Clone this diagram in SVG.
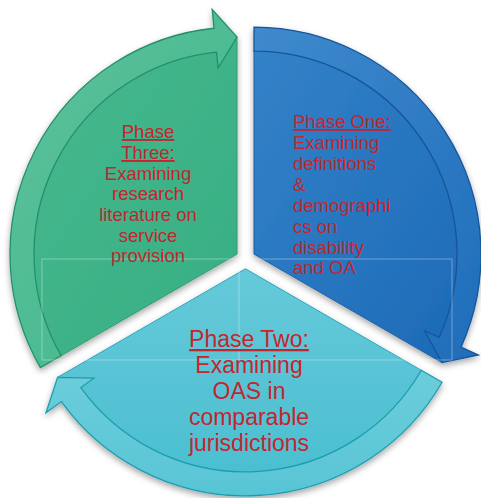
<svg xmlns="http://www.w3.org/2000/svg" width="481" height="498" viewBox="0 0 481 498">
  <defs>
    <filter id="shadow" x="-10%" y="-10%" width="120%" height="125%">
      <feDropShadow dx="0" dy="3" stdDeviation="3" flood-color="#000" flood-opacity="0.35"/>
    </filter>
    <linearGradient id="gGreen" x1="0" y1="0" x2="1" y2="1">
      <stop offset="0" stop-color="#48b88e"/>
      <stop offset="1" stop-color="#36ae83"/>
    </linearGradient>
    <linearGradient id="gGreenBand" x1="0" y1="0" x2="1" y2="1">
      <stop offset="0" stop-color="#5bc29b"/>
      <stop offset="1" stop-color="#43b68c"/>
    </linearGradient>
    <linearGradient id="gBlue" x1="0" y1="0" x2="1" y2="1">
      <stop offset="0" stop-color="#3482c8"/>
      <stop offset="1" stop-color="#1c6ab7"/>
    </linearGradient>
    <linearGradient id="gBlueBand" x1="0" y1="0" x2="1" y2="1">
      <stop offset="0" stop-color="#3f8acd"/>
      <stop offset="1" stop-color="#1f6dba"/>
    </linearGradient>
    <linearGradient id="gTeal" x1="0" y1="0" x2="0" y2="1">
      <stop offset="0" stop-color="#66c9d9"/>
      <stop offset="1" stop-color="#4bbfd1"/>
    </linearGradient>
    <linearGradient id="gTealBand" x1="0" y1="0" x2="0" y2="1">
      <stop offset="0" stop-color="#6ccdda"/>
      <stop offset="1" stop-color="#58c5d6"/>
    </linearGradient>
  </defs>
  <style>
    .green .pie { fill: url(#gGreen); stroke: #2e9a72; stroke-width: 1; }
    .green .band { fill: url(#gGreenBand); stroke: #23906a; stroke-width: 1.3; }
    .blue .pie { fill: url(#gBlue); stroke: #1a5ea6; stroke-width: 1; }
    .blue .band { fill: url(#gBlueBand); stroke: #15559c; stroke-width: 1.3; }
    .teal .pie { fill: url(#gTeal); stroke: #2aa9ba; stroke-width: 1; }
    .teal .band { fill: url(#gTealBand); stroke: #1d9daf; stroke-width: 1.3; }
    .seg { filter: url(#shadow); }
    .lbl { font-family: "Liberation Sans", Arial, sans-serif; fill: #c3262f; }
    .s1 { font-size: 18.5px; }
    .s2 { font-size: 23px; }
    .u { text-decoration: underline; }
    .frame { fill: none; stroke: #ffffff; stroke-opacity: 0.35; stroke-width: 1; }
  </style>

  <g id="phase-three" class="seg green">
    <path class="pie" d="M237,254.1 L60.33,356.1 A204,204 0 0 1 216.38,51.14 L237,37.1 Z"/>
    <path class="band" d="M40.41,367.6 A227,227 0 0 1 214.06,28.26 L212.14,9.36 L237,37.1 L218.10,68.06 L216.49,52.14 A203,203 0 0 0 61.20,355.6 Z"/>
  </g>

  <g id="phase-one" class="seg blue">
    <path class="pie" d="M254,254.1 L254,50.1 A204,204 0 0 1 440.07,337.72 L441.93,362.6 Z"/>
    <path class="band" d="M254,27.1 A227,227 0 0 1 461.05,347.15 L478.38,354.94 L441.93,362.6 L424.57,330.76 L439.16,337.31 A203,203 0 0 0 254,51.1 Z"/>
  </g>

  <g id="phase-two" class="seg teal">
    <path class="pie" d="M245.5,268.8 L422.17,370.8 A204,204 0 0 1 80.04,388.13 L57.57,377.3 Z"/>
    <path class="band" d="M442.09,382.3 A227,227 0 0 1 61.39,401.59 L45.98,412.7 L57.57,377.3 L93.83,378.19 L80.85,387.55 A203,203 0 0 0 421.3,370.3 Z"/>
  </g>

  <g id="connectors"></g>

  <g id="frames">
    <rect class="frame" x="42" y="259" width="410" height="101"/>
    <line class="frame" x1="239" y1="259" x2="239" y2="360"/>
  </g>

  <g id="label-three" class="lbl s1" text-anchor="middle">
    <text x="148" y="138" class="u">Phase</text>
    <text x="148" y="159" class="u">Three:</text>
    <text x="148" y="179.5">Examining</text>
    <text x="148" y="200">research</text>
    <text x="148" y="221">literature on</text>
    <text x="148" y="241.5">service</text>
    <text x="148" y="262">provision</text>
  </g>

  <g id="label-one" class="lbl s1">
    <text x="293" y="128" class="u">Phase One:</text>
    <text x="293" y="149">Examining</text>
    <text x="293" y="170">definitions</text>
    <text x="293" y="191">&amp;</text>
    <text x="293" y="212">demographi</text>
    <text x="293" y="233">cs on</text>
    <text x="293" y="254">disability</text>
    <text x="293" y="274">and OA</text>
  </g>

  <g id="label-two" class="lbl s2" text-anchor="middle">
    <text x="249" y="347" class="u">Phase Two:</text>
    <text x="249" y="373">Examining</text>
    <text x="249" y="399">OAS in</text>
    <text x="249" y="425">comparable</text>
    <text x="249" y="451">jurisdictions</text>
  </g>
</svg>
